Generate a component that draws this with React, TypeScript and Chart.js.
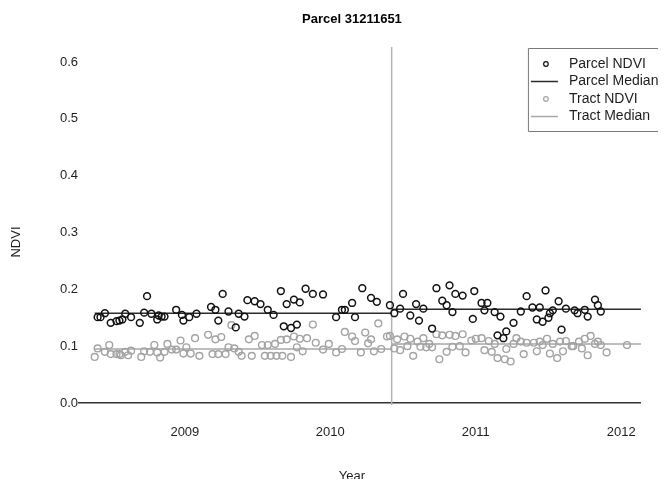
import React, { useEffect, useRef } from "react";
import { Chart, registerables } from "chart.js";

Chart.register(...registerables);

const FONT = "'Liberation Sans', Arial, Helvetica, sans-serif";

const chartTitle = "Parcel 31211651";
const xTitle = "Year";
const yTitle = "NDVI";
const legendLabels = ["Parcel NDVI", "Parcel Median", "Tract NDVI", "Tract Median"];

const yearTicks = [2009, 2010, 2011, 2012];
const ndviTicks = [0, 0.1, 0.2, 0.3, 0.4, 0.5, 0.6];

const parcelYears = [
  2008.40, 2008.42, 2008.45, 2008.49, 2008.53, 2008.55, 2008.57, 2008.59, 2008.63, 2008.69,
  2008.72, 2008.74, 2008.77, 2008.81, 2008.82, 2008.84, 2008.86, 2008.94, 2008.98, 2008.99,
  2009.03, 2009.08, 2009.18, 2009.21, 2009.23, 2009.26, 2009.30, 2009.35, 2009.37, 2009.41,
  2009.43, 2009.48, 2009.52, 2009.57, 2009.61, 2009.66, 2009.68, 2009.70, 2009.73, 2009.75,
  2009.77, 2009.79, 2009.83, 2009.88, 2009.95, 2010.04, 2010.08, 2010.10, 2010.15, 2010.17,
  2010.22, 2010.28, 2010.32, 2010.41, 2010.44, 2010.48, 2010.50, 2010.55, 2010.59, 2010.61,
  2010.64, 2010.70, 2010.73, 2010.77, 2010.80, 2010.82, 2010.84, 2010.86, 2010.91, 2010.98,
  2010.99, 2011.04, 2011.06, 2011.08, 2011.13, 2011.15, 2011.17, 2011.19, 2011.21, 2011.26,
  2011.31, 2011.35, 2011.39, 2011.42, 2011.44, 2011.46, 2011.48, 2011.50, 2011.51, 2011.53,
  2011.57, 2011.59, 2011.62, 2011.68, 2011.70, 2011.75, 2011.77, 2011.82, 2011.84, 2011.86,
];
const parcelNdvi = [
  0.151, 0.151, 0.158, 0.141, 0.144, 0.145, 0.147, 0.157, 0.151, 0.141,
  0.159, 0.188, 0.157, 0.147, 0.154, 0.152, 0.152, 0.164, 0.155, 0.145,
  0.151, 0.157, 0.169, 0.164, 0.145, 0.192, 0.161, 0.133, 0.157, 0.152,
  0.181, 0.179, 0.174, 0.164, 0.155, 0.197, 0.135, 0.174, 0.132, 0.182,
  0.138, 0.177, 0.201, 0.192, 0.191, 0.151, 0.164, 0.164, 0.176, 0.151,
  0.202, 0.185, 0.178, 0.172, 0.158, 0.166, 0.192, 0.154, 0.174, 0.145,
  0.166, 0.131, 0.202, 0.180, 0.172, 0.207, 0.160, 0.192, 0.189, 0.148,
  0.197, 0.176, 0.163, 0.176, 0.160, 0.119, 0.152, 0.114, 0.126, 0.141,
  0.161, 0.188, 0.168, 0.147, 0.168, 0.143, 0.198, 0.150, 0.158, 0.163,
  0.179, 0.129, 0.166, 0.163, 0.158, 0.164, 0.152, 0.182, 0.172, 0.161,
];

const tractYears = [
  2008.38, 2008.40, 2008.45, 2008.48, 2008.49, 2008.53, 2008.55, 2008.56, 2008.59, 2008.61,
  2008.63, 2008.70, 2008.72, 2008.76, 2008.79, 2008.81, 2008.83, 2008.86, 2008.88, 2008.91,
  2008.94, 2008.97, 2008.99, 2009.01, 2009.04, 2009.07, 2009.10, 2009.16, 2009.19, 2009.21,
  2009.23, 2009.25, 2009.28, 2009.30, 2009.32, 2009.34, 2009.37, 2009.39, 2009.44, 2009.46,
  2009.48, 2009.53, 2009.55, 2009.57, 2009.59, 2009.62, 2009.63, 2009.66, 2009.67, 2009.70,
  2009.73, 2009.75, 2009.77, 2009.79, 2009.81, 2009.84, 2009.88, 2009.90, 2009.95, 2009.99,
  2010.04, 2010.08, 2010.10, 2010.15, 2010.17, 2010.21, 2010.24, 2010.26, 2010.28, 2010.30,
  2010.33, 2010.35, 2010.39, 2010.41, 2010.44, 2010.46, 2010.48, 2010.51, 2010.53, 2010.55,
  2010.57, 2010.60, 2010.62, 2010.64, 2010.66, 2010.68, 2010.70, 2010.73, 2010.75, 2010.77,
  2010.80, 2010.82, 2010.84, 2010.86, 2010.89, 2010.91, 2010.93, 2010.97, 2011.00, 2011.04,
  2011.06, 2011.09, 2011.11, 2011.13, 2011.15, 2011.20, 2011.21, 2011.24, 2011.26, 2011.28,
  2011.31, 2011.33, 2011.35, 2011.40, 2011.42, 2011.44, 2011.46, 2011.49, 2011.51, 2011.53,
  2011.56, 2011.58, 2011.60, 2011.62, 2011.66, 2011.67, 2011.71, 2011.73, 2011.75, 2011.77,
  2011.79, 2011.82, 2011.84, 2011.86, 2011.90, 2012.04,
];
const tractNdvi = [
  0.081, 0.096, 0.090, 0.102, 0.086, 0.086, 0.086, 0.084, 0.090, 0.084,
  0.092, 0.081, 0.091, 0.090, 0.102, 0.089, 0.080, 0.090, 0.104, 0.094,
  0.094, 0.110, 0.087, 0.098, 0.087, 0.114, 0.083, 0.120, 0.086, 0.112,
  0.086, 0.116, 0.086, 0.098, 0.137, 0.096, 0.090, 0.083, 0.112, 0.083,
  0.118, 0.102, 0.083, 0.102, 0.083, 0.104, 0.083, 0.111, 0.083, 0.112,
  0.081, 0.117, 0.098, 0.113, 0.091, 0.114, 0.138, 0.106, 0.094, 0.104,
  0.089, 0.095, 0.125, 0.117, 0.109, 0.089, 0.124, 0.105, 0.112, 0.091,
  0.140, 0.095, 0.117, 0.118, 0.096, 0.112, 0.093, 0.117, 0.100, 0.113,
  0.083, 0.108, 0.099, 0.114, 0.098, 0.104, 0.098, 0.121, 0.077, 0.119,
  0.090, 0.120, 0.099, 0.118, 0.100, 0.121, 0.089, 0.110, 0.113, 0.114,
  0.093, 0.109, 0.090, 0.104, 0.079, 0.077, 0.095, 0.073, 0.104, 0.114,
  0.108, 0.086, 0.106, 0.106, 0.091, 0.108, 0.102, 0.113, 0.087, 0.104,
  0.079, 0.108, 0.091, 0.109, 0.100, 0.100, 0.108, 0.096, 0.113, 0.084,
  0.118, 0.104, 0.108, 0.102, 0.089, 0.102,
];

// Median periods: before and after the change date
const medianBreaks = [2008.38, 2010.422, 2012.136];
const parcelMedians = [0.158, 0.165];
const tractMedians = [0.095, 0.104];
const changeYear = 2010.422;

const xMin = 2008.272;
const xMax = 2012.136;
const yMin = 0;
const yMax = 0.6264;

const COLORS = {
  parcel: "#111111",
  parcelMedian: "#2b2b2b",
  tract: "#a3a3a3",
  tractMedian: "#a8a8a8",
  change: "#b3b3b3",
  text: "#1e1e1e",
};

function medianSeries(meds: number[]) {
  return [
    { x: medianBreaks[0], y: meds[0] },
    { x: medianBreaks[1], y: meds[0] },
    { x: medianBreaks[1], y: null },
    { x: medianBreaks[1], y: meds[1] },
    { x: medianBreaks[2], y: meds[1] },
  ];
}

const decorPlugin = {
  id: "decor",
  beforeDatasetsDraw(chart: any) {
    const { ctx, chartArea } = chart;
    const x = chart.scales.x.getPixelForValue(changeYear);
    ctx.save();
    ctx.strokeStyle = COLORS.change;
    ctx.lineWidth = 1.5;
    ctx.beginPath();
    ctx.moveTo(x, chartArea.top);
    ctx.lineTo(x, chartArea.bottom + 2);
    ctx.stroke();
    ctx.restore();
  },
  afterDraw(chart: any) {
    const { ctx, chartArea, width } = chart;
    const cx = (chartArea.left + chartArea.right) / 2 - 8;
    ctx.save();
    ctx.fillStyle = "#000";
    ctx.textAlign = "center";
    ctx.textBaseline = "middle";
    ctx.font = `bold 13px ${FONT}`;
    ctx.fillText(chartTitle, cx, 11);

    ctx.fillStyle = COLORS.text;
    ctx.font = `13px ${FONT}`;
    ctx.fillText(xTitle, cx, 468);
    ctx.save();
    ctx.translate(8, 234);
    ctx.rotate(-Math.PI / 2);
    ctx.fillText(yTitle, 0, 0);
    ctx.restore();

    // legend
    const lx = chartArea.right - 113;
    const ly = 40;
    const lb = 123;
    ctx.strokeStyle = "#7a7a7a";
    ctx.lineWidth = 1;
    ctx.beginPath();
    ctx.moveTo(width + 5, ly + 0.5);
    ctx.lineTo(lx + 0.5, ly + 0.5);
    ctx.lineTo(lx + 0.5, lb + 0.5);
    ctx.lineTo(width + 5, lb + 0.5);
    ctx.stroke();

    const rows = [56, 73.5, 91, 108.5];
    const markerX = lx + 18;
    const lineX0 = lx + 3;
    const lineX1 = lx + 30;
    const textX = lx + 41;
    const kinds = [
      { type: "point", color: COLORS.parcel },
      { type: "line", color: COLORS.parcelMedian },
      { type: "point", color: COLORS.tract },
      { type: "line", color: COLORS.tractMedian },
    ];
    ctx.font = `14px ${FONT}`;
    ctx.textAlign = "left";
    kinds.forEach((k, i) => {
      const y = rows[i];
      ctx.strokeStyle = k.color;
      if (k.type === "point") {
        ctx.lineWidth = 1.2;
        ctx.beginPath();
        ctx.arc(markerX, y, 2.3, 0, Math.PI * 2);
        ctx.stroke();
      } else {
        ctx.lineWidth = 1.5;
        ctx.beginPath();
        ctx.moveTo(lineX0, y);
        ctx.lineTo(lineX1, y);
        ctx.stroke();
      }
      ctx.fillStyle = COLORS.text;
      ctx.fillText(legendLabels[i], textX, y);
    });
    ctx.restore();
  },
};

export default function App() {
  const ref = useRef<HTMLCanvasElement | null>(null);

  useEffect(() => {
    if (!ref.current) return;
    const parcelPts = parcelYears.map((x, i) => ({ x, y: parcelNdvi[i] }));
    const tractPts = tractYears.map((x, i) => ({ x, y: tractNdvi[i] }));

    const chart = new Chart(ref.current, {
      type: "scatter",
      data: {
        datasets: [
          {
            label: legendLabels[0],
            data: parcelPts,
            showLine: false,
            pointRadius: 3.4,
            pointBorderWidth: 1.5,
            pointBorderColor: COLORS.parcel,
            pointBackgroundColor: "rgba(0,0,0,0)",
          },
          {
            label: legendLabels[1],
            type: "line",
            data: medianSeries(parcelMedians),
            borderColor: COLORS.parcelMedian,
            borderWidth: 1.5,
            pointRadius: 0,
            spanGaps: false,
            fill: false,
          },
          {
            label: legendLabels[2],
            data: tractPts,
            showLine: false,
            pointRadius: 3.4,
            pointBorderWidth: 1.4,
            pointBorderColor: COLORS.tract,
            pointBackgroundColor: "rgba(0,0,0,0)",
          },
          {
            label: legendLabels[3],
            type: "line",
            data: medianSeries(tractMedians),
            borderColor: COLORS.tractMedian,
            borderWidth: 1.5,
            pointRadius: 0,
            spanGaps: false,
            fill: false,
          },
        ] as any,
      },
      options: {
        animation: false,
        responsive: false,
        events: [],
        layout: { padding: { left: 0, right: 11, top: 39, bottom: 0 } },
        plugins: {
          legend: { display: false },
          title: { display: false },
          tooltip: { enabled: false },
        },
        scales: {
          x: {
            type: "linear",
            min: xMin,
            max: xMax,
            grid: { display: false, drawTicks: false },
            border: { display: true, color: "#333333", width: 1.5 },
            afterBuildTicks: (scale: any) => {
              scale.ticks = yearTicks.map((v) => ({ value: v }));
            },
            afterFit: (scale: any) => {
              scale.height = 76;
            },
            ticks: {
              padding: 22,
              color: COLORS.text,
              font: { family: FONT, size: 13 },
              maxRotation: 0,
              autoSkip: false,
              callback: (v: any) => String(v),
            },
          },
          y: {
            type: "linear",
            min: yMin,
            max: yMax,
            grid: { display: false, drawTicks: false },
            border: { display: false },
            afterBuildTicks: (scale: any) => {
              scale.ticks = ndviTicks.map((v) => ({ value: v }));
            },
            afterFit: (scale: any) => {
              scale.width = 71;
            },
            ticks: {
              padding: 1,
              color: COLORS.text,
              font: { family: FONT, size: 13 },
              callback: (v: any) => Number(v).toFixed(1),
            },
          },
        },
      } as any,
      plugins: [decorPlugin],
    });
    return () => chart.destroy();
  }, []);

  return (
    <div style={{ width: 650, height: 471 }}>
      <canvas ref={ref} width={650} height={471} />
    </div>
  );
}
